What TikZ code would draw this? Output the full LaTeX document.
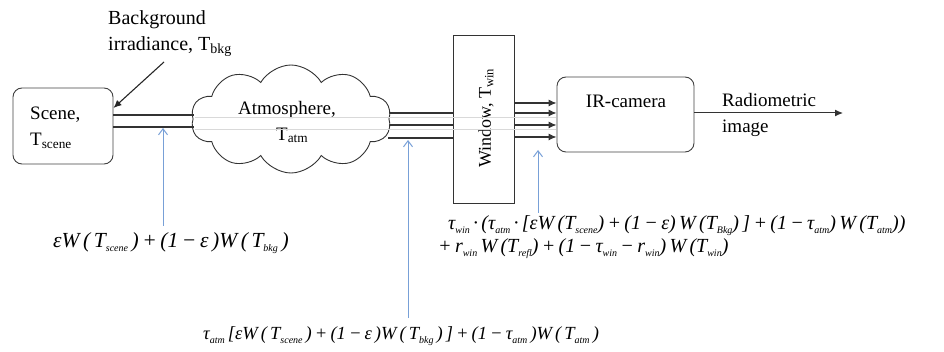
\documentclass[tikz,border=0pt]{standalone}
\usepackage{fontspec}
\setmainfont{Liberation Serif}
\usetikzlibrary{shapes.symbols,arrows.meta}
\definecolor{ablue}{RGB}{120,160,215}
\newcommand\sbs[1]{\textsubscript{#1}}
\newcommand\fsub[1]{\raisebox{-0.4ex}{\fontsize{10}{10}\selectfont #1}}
\tikzset{
  box/.style={draw=black!75, line width=0.9pt, rounded corners=9pt},
  lbl/.style={font=\fontsize{19}{22}\selectfont\rmfamily, align=left, inner sep=0pt},
  frm/.style={font=\fontsize{20}{23}\selectfont\rmfamily\itshape, align=left, inner sep=0pt},
  ray/.style={draw=black!80, line width=1.1pt},
  faint/.style={draw=black!15, line width=0.8pt},
  blue/.style={draw=ablue, line width=1pt, -{Straight Barb[length=6pt,width=9pt]}},
  tip/.style={-{Latex[length=8pt,width=7pt]}}
}
\begin{document}
\begin{tikzpicture}[x=1pt,y=-1pt]
\useasboundingbox (0,0) rectangle (944,352);
% nodes
\node[box, minimum width=100pt, minimum height=76pt] (scene) at (63,126) {};
\node[lbl, anchor=west] (scenet) at (30,128) {Scene,\\[4pt]T\sbs{scene}};
\node[lbl, anchor=west, font=\fontsize{20}{26}\selectfont\rmfamily] (bg) at (108,34) {Background\\irradiance, T\sbs{bkg}};
\node[cloud, cloud puffs=10, cloud puff arc=120, aspect=1.8, draw=black!80, line width=0.9pt, minimum width=200pt, minimum height=108pt, inner sep=0pt] (cloud) at (291,119) {};
\node[lbl, anchor=center] (atmt) at (287,122) {Atmosphere,\\[4pt]\hspace*{38pt}T\sbs{atm}};
\node[draw=black!80, line width=0.9pt, minimum width=61pt, minimum height=168pt, inner sep=0pt] (win) at (484,119) {};
\node[lbl, rotate=90, font=\fontsize{18}{20}\selectfont\rmfamily] (wint) at (486,118) {Window, T\sbs{win}};
\node[box, minimum width=137pt, minimum height=75pt] (cam) at (625.5,114.5) {};
\node[lbl] (camt) at (626,101) {IR-camera};
\node[lbl, anchor=west] (radt) at (722,115) {Radiometric\\[4pt]image};
\coordinate (bgs) at (164,62);
\coordinate (out) at (843,113);
% faint lines
\draw[faint] (195,117) -- (556,117);
\draw[faint] (195,129) -- (556,129);
% rays
\draw[tip, line width=1.1pt, black!85] (bgs) -- (scene.north east |- 0,108) ;
\draw[ray] (scene.east |- 0,115) -- (194,115);
\draw[ray] (scene.east |- 0,127) -- (194,127);
\draw[ray] (390,113) -- (win.west |- 0,113);
\draw[ray] (390,125) -- (win.west |- 0,125);
\draw[ray] (388,138) -- (win.west |- 0,138);
\foreach \y in {103,113,125,137}{
  \draw[ray, tip] (win.east |- 0,\y) -- (cam.west |- 0,\y);
}
\draw[ray, tip, line width=1pt] (cam.east |- out) -- (out);
% blue arrows
\coordinate (b1a) at (163,226); \coordinate (b1b) at (163,128);
\coordinate (b2a) at (408,318); \coordinate (b2b) at (408,140);
\coordinate (b3a) at (538,213); \coordinate (b3b) at (538,150);
\draw[blue] (b1a) -- (b1b);
\draw[blue] (b2a) -- (b2b);
\draw[blue] (b3a) -- (b3b);
% formulas
\node[frm, anchor=west, font=\fontsize{21.5}{24}\selectfont\rmfamily\itshape] (f1) at (53,243) {εW\,(\,T\fsub{scene}\,)\,+\,(1\,−\,ε\,)W\,(\,T\fsub{bkg}\,)};
\node[frm, anchor=west, font=\fontsize{20}{23}\selectfont\rmfamily\itshape] (f2) at (448,237) {τ\fsub{win}\,·\,(τ\fsub{atm}\,·\,[εW\,(T\fsub{scene})\,+\,(1\,−\,ε)\,W\,(T\fsub{Bkg})\,]\,+\,(1\,−\,τ\fsub{atm})\,W\,(T\fsub{atm}))\\
\hspace*{-10pt}+\,r\fsub{win}\,W\,(T\fsub{refl})\,+\,(1\,−\,τ\fsub{win}\,−\,r\fsub{win})\,W\,(T\fsub{win})};
\node[frm, anchor=west, font=\fontsize{18.5}{22}\selectfont\rmfamily\itshape] (f3) at (203,336) {τ\fsub{atm}\,[εW\,(\,T\fsub{scene}\,)\,+\,(1\,−\,ε\,)W\,(\,T\fsub{bkg}\,)\,]\,+\,(1\,−\,τ\fsub{atm}\,)W\,(\,T\fsub{atm}\,)};
\end{tikzpicture}
\end{document}
